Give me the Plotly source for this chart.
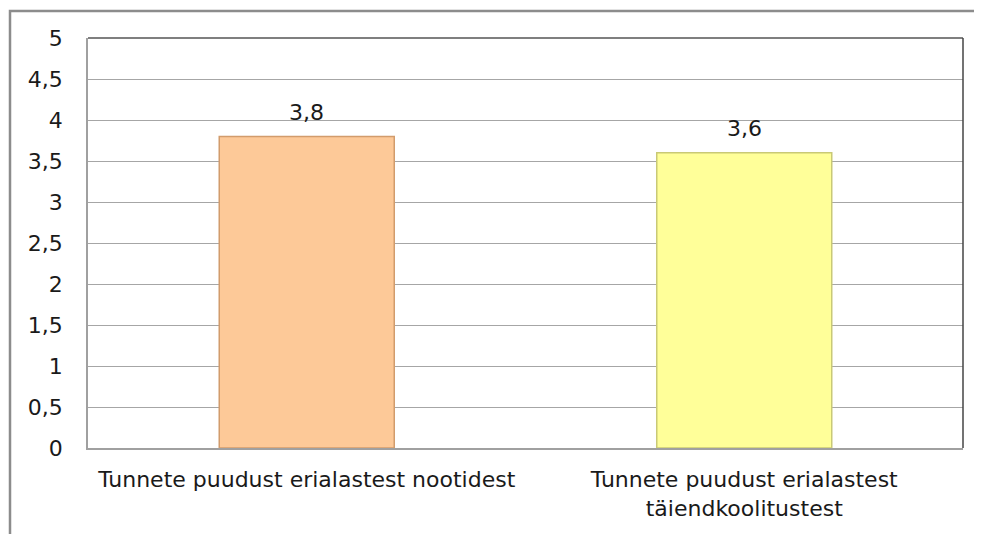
import plotly.graph_objects as go

categories = ["Tunnete puudust erialastest nootidest",
              "Tunnete puudust erialastest<br>täiendkoolitustest"]
values = [3.8, 3.6]
value_labels = ["3,8", "3,6"]
bar_colors = ["#FDC998", "#FFFF99"]
bar_edges = ["#D29C6C", "#C9C976"]
tick_vals = [0, 0.5, 1, 1.5, 2, 2.5, 3, 3.5, 4, 4.5, 5]
tick_text = ["0", "0,5", "1", "1,5", "2", "2,5", "3", "3,5", "4", "4,5", "5"]

FONT = "DejaVu Sans"
TXT = "#1A1A1A"
FS = 22

fig = go.Figure()
fig.add_trace(go.Bar(
    x=categories, y=values, width=0.40,
    marker=dict(color=bar_colors, line=dict(color=bar_edges, width=1.5)),
    hoverinfo="skip",
))

for c, v, t in zip(categories, values, value_labels):
    fig.add_annotation(x=c, y=v, text=t, showarrow=False, yanchor="middle",
                       yshift=24, font=dict(family=FONT, size=FS, color=TXT))

# page has an 8px body margin; figure coordinates are offset by it
OFF = 8
W, H = 982 - OFF, 534 - OFF
ml, mr, mt, mb = 88 - OFF, 19, 38 - OFF, 86
pw, ph = W - ml - mr, H - mt - mb

def px(x):
    return (x - OFF - ml) / pw

def py(y):
    return (H - mb - (y - OFF)) / ph

# outer chart border
fig.add_shape(type="rect", xref="paper", yref="paper",
              x0=px(10), x1=px(1000), y0=py(560), y1=py(11),
              line=dict(color="#8C8C8C", width=2.5), layer="below")
# plot area top and right lines (darker)
fig.add_shape(type="line", xref="paper", yref="paper", x0=0, x1=1, y0=1, y1=1,
              line=dict(color="#555555", width=1.5))
fig.add_shape(type="line", xref="paper", yref="paper", x0=1, x1=1, y0=0, y1=1,
              line=dict(color="#444444", width=1.5))

fig.update_layout(
    width=W, height=H,
    margin=dict(l=ml, r=mr, t=mt, b=mb),
    paper_bgcolor="white", plot_bgcolor="white",
    showlegend=False,
    font=dict(family=FONT, size=FS, color=TXT),
)
fig.update_xaxes(
    showline=True, linecolor="#A0A0A0", linewidth=1.5,
    showgrid=False, ticks="", tickfont=dict(family=FONT, size=FS, color=TXT),
    ticklabelstandoff=11, fixedrange=True,
)
fig.update_yaxes(
    range=[0, 5], tickvals=tick_vals, ticktext=tick_text,
    showgrid=True, gridcolor="#A6A6A6", gridwidth=1,
    showline=True, linecolor="#A0A0A0", linewidth=1.5,
    zeroline=False, ticks="", ticklabelstandoff=19,
    tickfont=dict(family=FONT, size=FS, color=TXT), fixedrange=True,
)

fig.write_html("out.html")
